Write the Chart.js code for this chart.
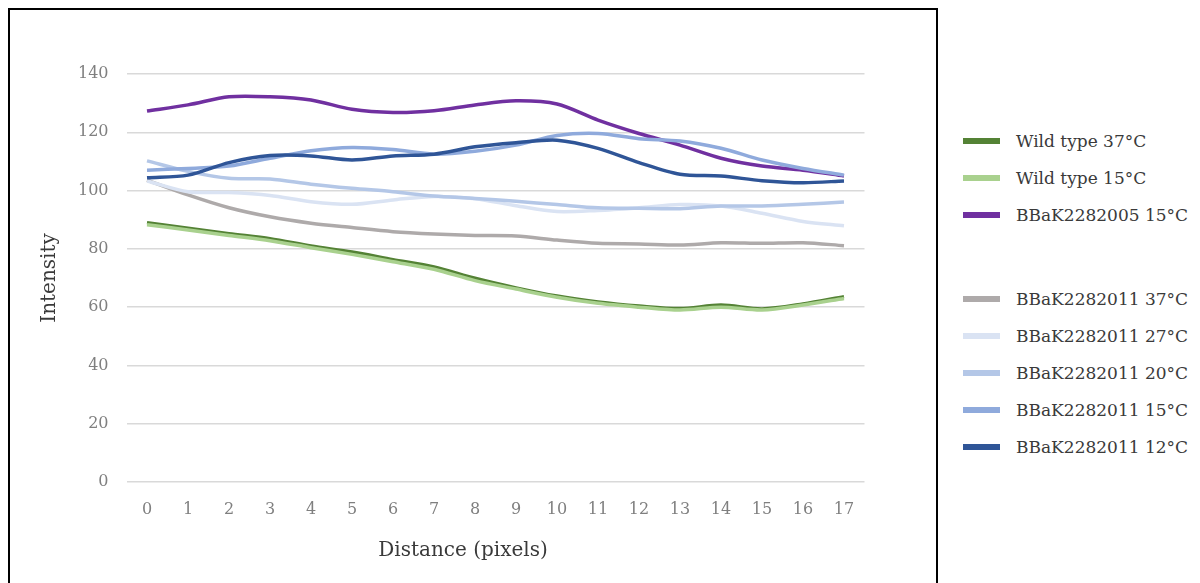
<!DOCTYPE html>
<html>
<head>
<meta charset="utf-8">
<script src="https://cdn.jsdelivr.net/npm/chart.js@4"></script>
<style>
    html, body { margin: 0; padding: 0; background: #fff; overflow: hidden; }
    #frame {
        position: absolute; left: 8px; top: 8px;
        width: 926px; height: 590px;
        border: 2px solid #000;
    }
    #legend {
        position: absolute; left: 963px; top: 122px;
        font-family: 'DejaVu Serif', serif; font-size: 17px; color: #3a3a3a;
    }
    .item { display: flex; align-items: center; height: 37px; }
    .swatch { width: 37px; height: 6px; margin-right: 16px; }
    .gap { height: 47px; }
</style>
</head>
<body>
<div id="frame"><canvas id="chart" width="926" height="590"></canvas></div>
<div id="legend"></div>
<script>
const distances = ['0', '1', '2', '3', '4', '5', '6', '7', '8', '9', '10', '11', '12', '13', '14', '15', '16', '17'];
const yTicks = [0, 20, 40, 60, 80, 100, 120, 140];

const seriesNames = [
    'Wild type 37°C',
    'Wild type 15°C',
    'BBaK2282005 15°C',
    'BBaK2282011 37°C',
    'BBaK2282011 27°C',
    'BBaK2282011 20°C',
    'BBaK2282011 15°C',
    'BBaK2282011 12°C',
];

const wt37 = [89.0, 87.1, 85.2, 83.5, 81.0, 78.9, 76.3, 73.8, 69.9, 66.6, 63.8, 61.8, 60.4, 59.5, 60.7, 59.4, 61.1, 63.6];
const wt15 = [88.3, 86.5, 84.6, 82.8, 80.4, 78.1, 75.6, 73.0, 69.1, 66.2, 63.4, 61.3, 60.0, 59.0, 60.0, 59.0, 60.7, 63.0];
const k2005_15 = [127.3, 129.4, 132.2, 132.2, 131.1, 127.9, 126.8, 127.4, 129.4, 130.8, 129.7, 124.2, 119.6, 115.6, 111.1, 108.4, 107.0, 105.0];
const k2011_37 = [103.6, 98.5, 94.1, 91.0, 88.8, 87.3, 85.9, 85.1, 84.6, 84.4, 83.0, 81.9, 81.7, 81.3, 82.1, 81.9, 82.1, 81.1];
const k2011_27 = [103.3, 99.6, 99.3, 98.3, 96.2, 95.3, 96.8, 98.0, 97.2, 94.8, 92.8, 93.2, 94.1, 95.2, 94.7, 92.2, 89.4, 87.9];
const k2011_20 = [110.2, 106.6, 104.2, 104.0, 102.2, 100.8, 99.6, 98.1, 97.3, 96.3, 95.2, 94.1, 93.9, 93.8, 94.7, 94.7, 95.3, 96.1];
const k2011_15 = [107.0, 107.6, 108.4, 111.1, 113.7, 114.8, 114.1, 112.5, 113.5, 115.6, 118.9, 119.6, 117.8, 117.0, 114.5, 110.5, 107.6, 105.3];
const k2011_12 = [104.4, 105.3, 109.6, 112.0, 111.9, 110.5, 111.9, 112.5, 115.0, 116.4, 117.3, 114.5, 109.6, 105.6, 105.0, 103.4, 102.7, 103.3];

const colors = ['#548235', '#a9d18e', '#7030a0', '#aeaaaa', '#dae3f3', '#b4c7e7', '#8faadc', '#2f5597'];
const allSeries = [wt37, wt15, k2005_15, k2011_37, k2011_27, k2011_20, k2011_15, k2011_12];

const textFont = 'DejaVu Serif';
const xTitle = 'Distance (pixels)';

const datasets = allSeries.map((values, i) => ({
    label: seriesNames[i],
    data: values,
    borderColor: colors[i],
    backgroundColor: colors[i],
    borderWidth: 3.5,
    pointRadius: 0,
    tension: 0.3,
    fill: false,
    order: allSeries.length - i,
}));

// x title sits a bit left of the plot centre in the original, so draw it by hand
const xTitlePlugin = {
    id: 'xTitle',
    afterDraw(chart) {
        const ctx = chart.ctx;
        ctx.save();
        ctx.font = `20px '${textFont}'`;
        ctx.fillStyle = '#3a3a3a';
        ctx.textAlign = 'center';
        ctx.textBaseline = 'middle';
        ctx.fillText(xTitle, 453, 541);
        ctx.restore();
    }
};

const chart = new Chart(document.getElementById('chart').getContext('2d'), {
    type: 'line',
    data: { labels: distances, datasets },
    plugins: [xTitlePlugin],
    options: {
        responsive: false,
        animation: false,
        layout: { padding: { left: 0, top: 64, right: 71.5, bottom: 0 } },
        scales: {
            x: {
                offset: true,
                grid: { display: false, drawTicks: false },
                border: { display: false },
                ticks: {
                    color: '#7f7f7f',
                    padding: 18,
                    maxRotation: 0,
                    font: { family: textFont, size: 16 }
                },
                afterFit: (scale) => { scale.height = 118; }
            },
            y: {
                min: 0,
                max: 140,
                afterBuildTicks: (scale) => { scale.ticks = yTicks.map(v => ({ value: v })); },
                grid: { color: '#d9d9d9', lineWidth: 1.5, drawTicks: false },
                border: { display: false },
                ticks: {
                    color: '#7f7f7f',
                    padding: 18,
                    font: { family: textFont, size: 16 }
                },
                title: {
                    display: true,
                    text: 'Intensity',
                    color: '#3a3a3a',
                    padding: { top: 28 },
                    font: { family: textFont, size: 20 }
                },
                afterFit: (scale) => { scale.width = 116.5; }
            }
        },
        plugins: {
            legend: { display: false },
            tooltip: { enabled: false }
        }
    }
});

// html legend outside the framed chart, with a gap after the third entry
const legendEl = document.getElementById('legend');
chart.data.datasets.forEach((ds, i) => {
    if (i === 3) {
        const gap = document.createElement('div');
        gap.className = 'gap';
        legendEl.appendChild(gap);
    }
    const item = document.createElement('div');
    item.className = 'item';
    const sw = document.createElement('span');
    sw.className = 'swatch';
    sw.style.background = ds.borderColor;
    const label = document.createElement('span');
    label.textContent = ds.label;
    item.appendChild(sw);
    item.appendChild(label);
    legendEl.appendChild(item);
});
</script>
</body>
</html>
